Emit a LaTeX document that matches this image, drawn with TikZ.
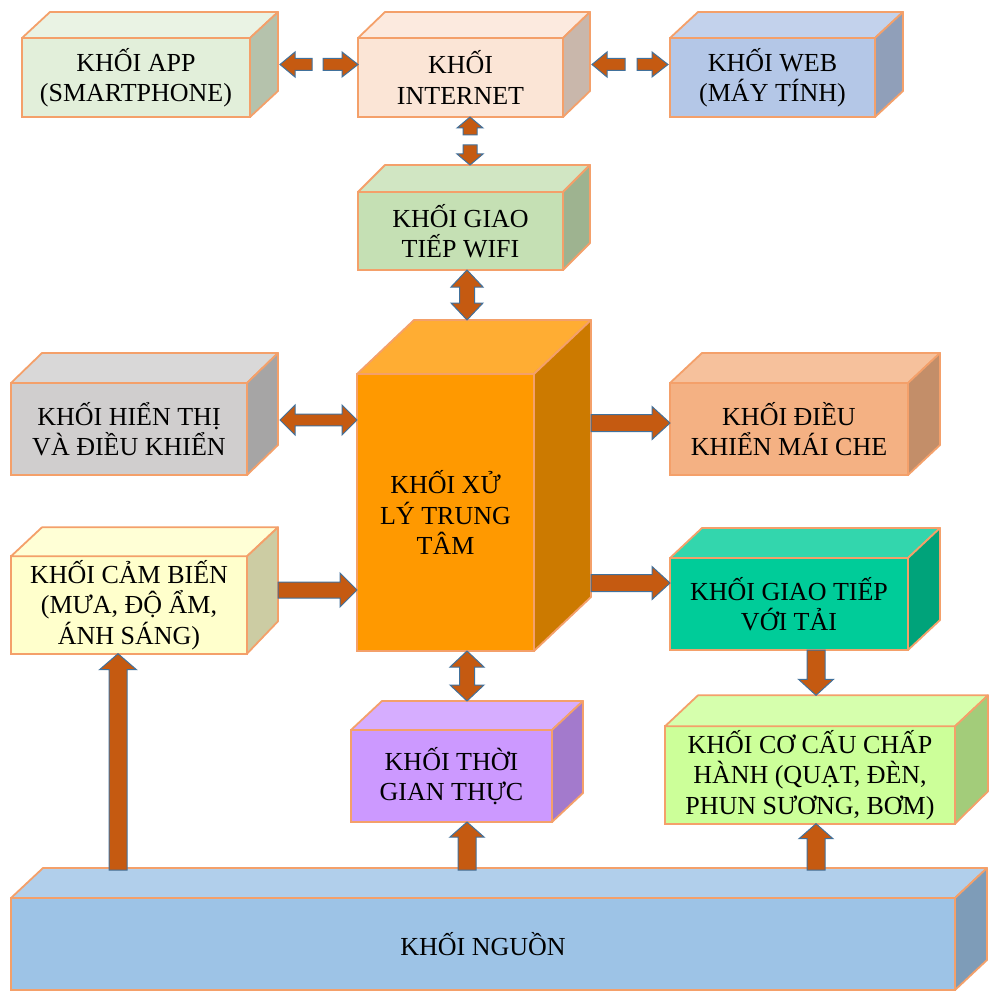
\documentclass[tikz,border=0pt]{standalone}
\usepackage{fontspec}
\setmainfont{Liberation Serif}
\usetikzlibrary{calc}
\definecolor{edgec}{HTML}{F4A06A}
\definecolor{arrowc}{HTML}{C55A11}
\definecolor{arrowedge}{HTML}{41719C}
\definecolor{appF}{HTML}{E2EFDA}\definecolor{appT}{HTML}{EAF3E4}\definecolor{appS}{HTML}{B5C2AC}
\definecolor{inetF}{HTML}{FBE5D6}\definecolor{inetT}{HTML}{FCEADF}\definecolor{inetS}{HTML}{C9B7AB}
\definecolor{webF}{HTML}{B4C7E7}\definecolor{webT}{HTML}{C3D2EC}\definecolor{webS}{HTML}{909FB9}
\definecolor{wifiF}{HTML}{C5E0B4}\definecolor{wifiT}{HTML}{D1E6C3}\definecolor{wifiS}{HTML}{9EB390}
\definecolor{hienF}{HTML}{D0CECE}\definecolor{hienT}{HTML}{D9D8D8}\definecolor{hienS}{HTML}{A6A5A5}
\definecolor{cpuF}{HTML}{FF9900}\definecolor{cpuT}{HTML}{FFAD33}\definecolor{cpuS}{HTML}{CC7A00}
\definecolor{dieuF}{HTML}{F4B183}\definecolor{dieuT}{HTML}{F6C19C}\definecolor{dieuS}{HTML}{C38E69}
\definecolor{cambF}{HTML}{FFFFCC}\definecolor{cambT}{HTML}{FFFFD6}\definecolor{cambS}{HTML}{CCCCA3}
\definecolor{giaoF}{HTML}{00CC99}\definecolor{giaoT}{HTML}{33D6AD}\definecolor{giaoS}{HTML}{00A37A}
\definecolor{thoiF}{HTML}{CC99FF}\definecolor{thoiT}{HTML}{D6ADFF}\definecolor{thoiS}{HTML}{A37ACC}
\definecolor{cocauF}{HTML}{CCFF99}\definecolor{cocauT}{HTML}{D6FFAD}\definecolor{cocauS}{HTML}{A3CC7A}
\definecolor{nguonF}{HTML}{9DC3E6}\definecolor{nguonT}{HTML}{B1CFEB}\definecolor{nguonS}{HTML}{7E9CB8}
\tikzset{
  cubeface/.style={draw=edgec, line width=0.9pt, inner sep=2pt, outer sep=0pt, align=center,
    font=\fontsize{13}{15.2}\selectfont, text=black},
  cubeedge/.style={draw=edgec, line width=0.9pt, line join=round},
  blockarrow/.style={fill=arrowc, draw=arrowedge, line width=0.5pt, line join=miter}
}
% name, x1, y1, x2, y2, dx, dy, colour prefix, text
\newcommand\mycube[9]{%
  \pgfmathsetmacro\cubew{(#4-#2)*0.5}%
  \pgfmathsetmacro\cubeh{(#5-#3)*0.5}%
  \node[cubeface, fill=#8F, minimum width=\cubew pt, minimum height=\cubeh pt] (#1) at ({(#2+#4)/2},{(#3+#5)/2}) {#9};
  \draw[cubeedge, fill=#8T] (#1.north west) -- ++(#6,-#7) -- ++(#4-#2,0) -- (#1.north east) -- cycle;
  \draw[cubeedge, fill=#8S] (#1.north east) -- ++(#6,-#7) -- ++(0,#5-#3) -- (#1.south east) -- cycle;
}
% single block arrow: from, to(tip), shaft half, head half, head length
\newcommand\sarr[5]{%
  \coordinate (arrP) at (#1);
  \coordinate (arrQ) at (#2);
  \coordinate (hbA) at ($(arrQ)!#5!(arrP)$);
  \draw[blockarrow] ($(arrP)!#3!90:(arrQ)$) -- ($(hbA)!#3!90:(arrQ)$) -- ($(hbA)!#4!90:(arrQ)$) -- (arrQ)
    -- ($(hbA)!#4!-90:(arrQ)$) -- ($(hbA)!#3!-90:(arrQ)$) -- ($(arrP)!#3!-90:(arrQ)$) -- cycle;
}
% double block arrow: tip, tip, shaft half, head half, head length
\newcommand\darr[5]{%
  \coordinate (arrP) at (#1);
  \coordinate (arrQ) at (#2);
  \coordinate (hbA) at ($(arrP)!#5!(arrQ)$);
  \coordinate (hbB) at ($(arrQ)!#5!(arrP)$);
  \draw[blockarrow] (arrP) -- ($(hbA)!#4!90:(arrQ)$) -- ($(hbA)!#3!90:(arrQ)$) -- ($(hbB)!#3!90:(arrQ)$)
    -- ($(hbB)!#4!90:(arrQ)$) -- (arrQ) -- ($(hbB)!#4!-90:(arrQ)$) -- ($(hbB)!#3!-90:(arrQ)$)
    -- ($(hbA)!#3!-90:(arrQ)$) -- ($(hbA)!#4!-90:(arrQ)$) -- cycle;
}
\begin{document}
\begin{tikzpicture}[x=0.5pt,y=-0.5pt]
\useasboundingbox[fill=white] (0,0) rectangle (1000,1000);
% boxes
\mycube{app}{22}{38}{250}{117}{28}{26}{app}{KHỐI APP\\(SMARTPHONE)}
\mycube{inet}{358}{38}{563}{117}{27}{26}{inet}{KHỐI\\INTERNET}
\mycube{web}{670}{38}{875}{117}{28}{26}{web}{KHỐI WEB\\(MÁY TÍNH)}
\mycube{wifi}{358}{192}{563}{270}{27}{27}{wifi}{KHỐI GIAO\\TIẾP WIFI}
\mycube{hien}{11}{383}{247}{475}{31}{30}{hien}{KHỐI HIỂN THỊ\\VÀ ĐIỀU KHIỂN}
\mycube{cpu}{357}{374}{534}{651}{57}{54}{cpu}{KHỐI XỬ\\LÝ TRUNG\\TÂM}
\mycube{dieu}{670}{383}{908}{475}{32}{30}{dieu}{KHỐI ĐIỀU\\KHIỂN MÁI CHE}
\mycube{camb}{11}{558}{247}{652}{31}{29}{camb}{KHỐI CẢM BIẾN\\(MƯA, ĐỘ ẨM,\\ÁNH SÁNG)}
\mycube{giao}{670}{558}{908}{650}{32}{30}{giao}{KHỐI GIAO TIẾP\\VỚI TẢI}
\mycube{thoi}{351}{730}{552}{822}{31}{29}{thoi}{KHỐI THỜI\\GIAN THỰC}
\mycube{cocau}{665}{727}{955}{823}{33}{31}{cocau}{KHỐI CƠ CẤU CHẤP\\HÀNH (QUẠT, ĐÈN,\\PHUN SƯƠNG, BƠM)}
\mycube{nguon}{11}{898}{955}{990}{32}{30}{nguon}{KHỐI NGUỒN}
% arrows: app <-> internet (split)
\sarr{$(inet.west)+(-46,-13)$}{$(app.east)+(30,-13)$}{3pt}{6.25pt}{7.5pt}
\sarr{$(inet.west)+(-35,-13)$}{$(inet.west)+(0,-13)$}{3pt}{6.25pt}{8pt}
% internet <-> web (split)
\sarr{$(web.west)+(-45,-13)$}{$(inet.east)+(29,-13)$}{3pt}{6.25pt}{7.5pt}
\sarr{$(web.west)+(-33,-13)$}{$(web.west)+(-2,-13)$}{3pt}{6.25pt}{8pt}
% internet <-> wifi (split)
\sarr{$(inet.south)+(9.5,18)$}{$(inet.south)+(9.5,0)$}{3.5pt}{6.5pt}{5.5pt}
\sarr{$(wifi.north)+(9.5,-47)$}{$(wifi.north)+(9.5,-27)$}{3.5pt}{6.5pt}{5.5pt}
% wifi <-> cpu
\darr{$(wifi.south)+(6.5,0)$}{$(cpu.north)+(21.5,-54)$}{3.75pt}{8pt}{8.5pt}
% hien <-> cpu
\darr{$(hien.east)+(33,-9)$}{$(cpu.west)+(0,-92.5)$}{2.9pt}{7.5pt}{7.5pt}
% camb -> cpu
\sarr{$(camb.east)+(31,-15)$}{$(cpu.west)+(0,77.5)$}{4pt}{8.5pt}{8.5pt}
% cpu -> dieu
\sarr{$(cpu.east)+(57,-89.5)$}{$(dieu.west)+(0,-6)$}{4.25pt}{8.25pt}{9pt}
% cpu -> giao
\sarr{$(cpu.east)+(57,70.5)$}{$(giao.west)+(0,-21)$}{4.25pt}{8.25pt}{9pt}
% cpu <-> thoi
\darr{$(cpu.south)+(21.5,0)$}{$(thoi.north)+(15.5,-29)$}{3.75pt}{8.5pt}{8pt}
% giao -> cocau
\sarr{$(giao.south)+(27,0)$}{$(cocau.north)+(6,-31)$}{4.5pt}{8.75pt}{8pt}
% nguon -> camb, thoi, cocau
\sarr{$(nguon.north west)+(107,-28)$}{$(camb.south west)+(107,0)$}{4.5pt}{9.25pt}{8pt}
\sarr{$(nguon.north)+(-16,-28)$}{$(thoi.south)+(15.5,0)$}{4.5pt}{8.5pt}{7.5pt}
\sarr{$(nguon.north)+(333,-28)$}{$(cocau.south)+(6,0)$}{4.5pt}{8.5pt}{7.5pt}
\end{tikzpicture}
\end{document}
